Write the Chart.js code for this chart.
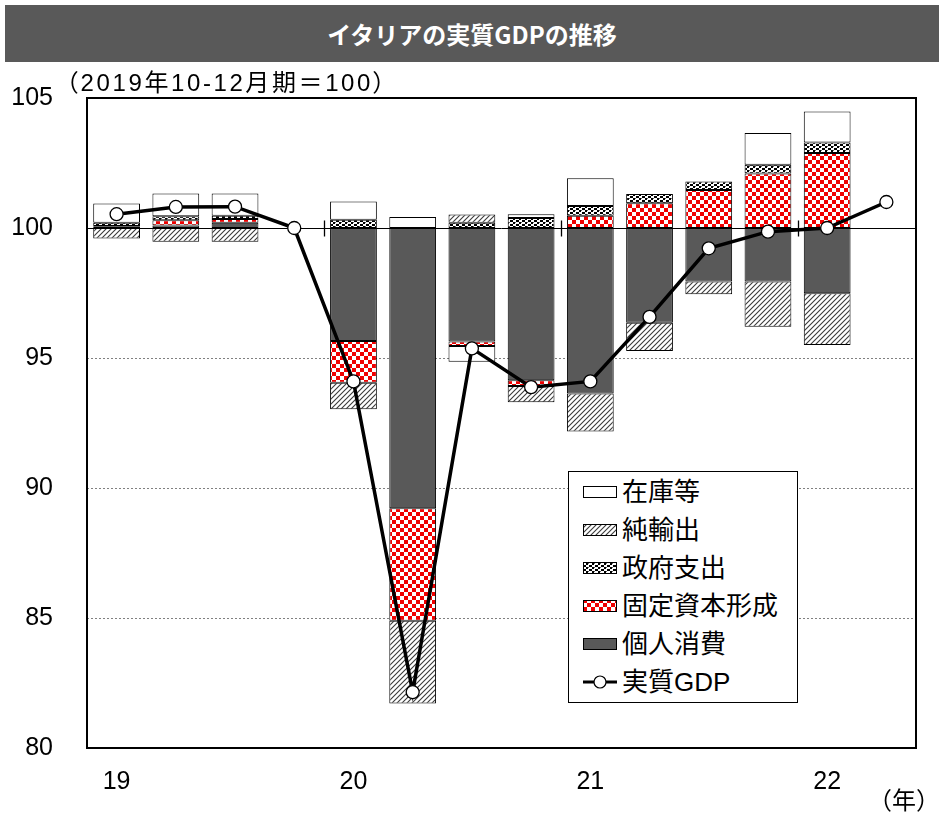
<!DOCTYPE html>
<html>
<head>
<meta charset="utf-8">
<script src="https://cdn.jsdelivr.net/npm/chart.js@4.4.1/dist/chart.umd.min.js"></script>
<style>
html,body{margin:0;padding:0;background:#fff;width:939px;height:821px;overflow:hidden;}
#wrap{position:relative;width:939px;height:821px;}
#c{position:absolute;left:0;top:0;width:939px;height:821px;}
#title{position:absolute;left:5px;top:5px;width:934px;height:57px;background:#595959;color:#fff;
  font:bold 24px "Noto Sans CJK JP";display:flex;align-items:center;justify-content:center;}
#sub{position:absolute;left:66px;top:71px;font-size:24px;line-height:24px;font-family:"Liberation Sans","Noto Sans CJK JP";
  letter-spacing:2.6px;font-feature-settings:"palt";color:#000;white-space:nowrap;}
#unit{position:absolute;left:868px;top:789px;font-size:24px;line-height:24px;font-family:"Liberation Sans","Noto Sans CJK JP";
  color:#000;white-space:nowrap;}
#legend{position:absolute;left:568px;top:471px;width:228px;height:230px;border:1px solid #000;background:#fff;}
.row{position:absolute;left:0;height:38px;width:228px;}
.row canvas{position:absolute;left:14px;top:12px;}
.row span{position:absolute;left:53px;top:0;line-height:38px;font-size:26px;font-family:"Liberation Sans","Noto Sans CJK JP";color:#000;white-space:nowrap;}
</style>
</head>
<body>
<div id="wrap">
  <canvas id="c" width="939" height="821"></canvas>
  <div id="title">イタリアの実質GDPの推移</div>
  <div id="sub">（2019年10-12月期＝100）</div>
  <div id="unit">（年）</div>
  <div id="legend"></div>
</div>
<script>
// ---- data (contributions to change since 2019Q4, pt; GDP index 2019Q4 = 100) ----
const quarters = ['2019Q1','2019Q2','2019Q3','2019Q4','2020Q1','2020Q2','2020Q3','2020Q4',
                  '2021Q1','2021Q2','2021Q3','2021Q4','2022Q1','2022Q2'];
const xTickLabels = ['19','','','','20','','','','21','','','','22',''];
const consumption = [0.05, 0.10, 0.20, null, -4.35, -10.78, -4.37, -5.86, -6.37, -3.64, -2.06, -2.06, -2.51, null];
const investment  = [0.03, 0.20, 0.15, null, -1.60, -4.33, -0.17, -0.22, 0.47, 0.95, 1.46, 2.10, 2.88, null];
const government  = [0.12, 0.15, 0.12, null, 0.32, null, 0.20, 0.38, 0.38, 0.36, 0.33, 0.33, 0.41, null];
const netExports  = [-0.40, -0.53, -0.53, null, -1.02, -3.18, 0.32, -0.62, -1.46, -1.09, -0.49, -1.74, -1.99, null];
const inventories = [0.74, 0.88, 0.86, null, 0.70, 0.42, -0.60, 0.15, 1.06, null, null, 1.22, 1.19, null];
const realGDP     = [100.53, 100.81, 100.82, 100.0, 94.10, 82.15, 95.37, 93.88, 94.10, 96.58, 99.22, 99.86, 100.0, 101.0];
const baseLevel = 100;
const yTicks = {min: 80, max: 105, step: 5};
const seriesNames = ['個人消費','固定資本形成','政府支出','純輸出','在庫等'];

// ---- patterns ----
const mainCtx = document.getElementById('c').getContext('2d');
function tile(kind){
  const t = document.createElement('canvas'); const g = t.getContext('2d');
  if(kind==='hatch'){
    t.width = t.height = 5; g.fillStyle='#fff'; g.fillRect(0,0,5,5);
    g.strokeStyle='#3a3a3a'; g.lineWidth=1.1; g.beginPath();
    g.moveTo(-1,6); g.lineTo(6,-1); g.moveTo(-1,1); g.lineTo(1,-1); g.moveTo(4,6); g.lineTo(6,4); g.stroke();
  } else if(kind==='check'){
    t.width = t.height = 8; g.fillStyle='#fff'; g.fillRect(0,0,8,8);
    g.fillStyle='#f00000'; g.fillRect(0,0,4,4); g.fillRect(4,4,4,4);
  } else if(kind==='dots'){
    t.width = 6; t.height = 4; g.fillStyle='#fff'; g.fillRect(0,0,6,4);
    g.fillStyle='#000'; g.fillRect(0,0,3,2); g.fillRect(3,2,2,2);
    g.fillStyle='#666'; g.fillRect(5,2,1,1);
  }
  return t;
}
function pat(kind, ctx){ return (ctx||mainCtx).createPattern(tile(kind),'repeat'); }
const fills = ['#595959', pat('check'), pat('dots'), pat('hatch'), '#ffffff'];

// ---- build floating stacked bars from base 100 ----
const comps = [consumption, investment, government, netExports, inventories];
const floating = comps.map(()=>[]);
for(let i=0;i<quarters.length;i++){
  let pos = baseLevel, neg = baseLevel;
  comps.forEach((arr,k)=>{
    const v = arr[i];
    if(v==null){ floating[k].push(null); return; }
    if(v>=0){ floating[k].push([pos, pos+v]); pos += v; }
    else { floating[k].push([neg+v, neg]); neg += v; }
  });
}

const barSets = comps.map((arr,k)=>({
  type:'bar', label: seriesNames[k], data: floating[k], backgroundColor: fills[k],
  borderColor:'#000', borderWidth:1, borderSkipped:false, grouped:false,
  barPercentage:0.79, categoryPercentage:1.0, order:1
}));
const lineSet = {type:'line', label:'実質GDP', data: realGDP, borderColor:'#000', borderWidth:3.5,
  pointRadius:6.5, pointHoverRadius:6.5, pointBackgroundColor:'#fff', pointBorderColor:'#000', pointBorderWidth:1.3,
  tension:0, fill:false, order:0};

const deco = {
  id:'deco',
  beforeDatasetsDraw(chart){
    const {ctx, chartArea:a, scales:{x,y}} = chart;
    ctx.save();
    ctx.strokeStyle='#808080'; ctx.lineWidth=1; ctx.setLineDash([2,2]);
    y.ticks.forEach(t=>{
      if(t.value>yTicks.min && t.value<yTicks.max && t.value!==baseLevel){
        const py = Math.round(y.getPixelForValue(t.value))+0.5;
        ctx.beginPath(); ctx.moveTo(a.left,py); ctx.lineTo(a.right,py); ctx.stroke();
      }
    });
    ctx.setLineDash([]); ctx.strokeStyle='#000';
    const p0 = Math.round(y.getPixelForValue(baseLevel))+0.5;
    ctx.beginPath(); ctx.moveTo(a.left,p0); ctx.lineTo(a.right,p0); ctx.stroke();
    ctx.lineWidth=1.3;
    xTickLabels.forEach((lab,i)=>{
      if(lab!=='' && i>0){
        const px = Math.round((x.getPixelForValue(i-1)+x.getPixelForValue(i))/2)+0.5;
        ctx.beginPath(); ctx.moveTo(px,p0-8); ctx.lineTo(px,p0+8); ctx.stroke();
      }
    });
    ctx.restore();
  },
  afterDatasetsDraw(chart){
    const {ctx, chartArea:a} = chart;
    ctx.save(); ctx.strokeStyle='#000'; ctx.lineWidth=2;
    ctx.strokeRect(a.left, a.top, a.right-a.left, a.bottom-a.top);
    ctx.restore();
  }
};

new Chart(mainCtx, {
  data:{ labels: quarters, datasets:[lineSet, ...barSets] },
  options:{
    responsive:false, animation:false, devicePixelRatio:1,
    layout:{padding:{top:98, right:23, bottom:0, left:0}},
    plugins:{legend:{display:false}, tooltip:{enabled:false}, title:{display:false}},
    scales:{
      x:{ type:'category', offset:true,
          grid:{display:false, drawTicks:false}, border:{display:false},
          ticks:{autoSkip:false, maxRotation:0, minRotation:0, padding:19, color:'#000',
                 font:{family:'"Liberation Sans", Arial', size:25},
                 callback:(v,i)=>xTickLabels[i]},
          afterFit:(s)=>{ s.height = 73; } },
      y:{ min:yTicks.min, max:yTicks.max,
          grid:{display:false, drawTicks:false}, border:{display:false},
          ticks:{stepSize:yTicks.step, padding:34, color:'#000',
                 font:{family:'"Liberation Sans", Arial', size:25}},
          afterFit:(s)=>{ s.width = 87; } }
    }
  },
  plugins:[deco]
});

// ---- HTML legend ----
const legendItems = [
  {name:'在庫等', kind:'solid:#ffffff'},
  {name:'純輸出', kind:'hatch'},
  {name:'政府支出', kind:'dots'},
  {name:'固定資本形成', kind:'check'},
  {name:'個人消費', kind:'solid:#595959'},
  {name:'実質GDP', kind:'line'}
];
const lg = document.getElementById('legend');
legendItems.forEach((it,i)=>{
  const row = document.createElement('div'); row.className='row'; row.style.top = (1 + i*38)+'px';
  const cv = document.createElement('canvas'); cv.width=34; cv.height=14;
  const g = cv.getContext('2d');
  if(it.kind==='line'){
    g.strokeStyle='#000'; g.lineWidth=3; g.beginPath(); g.moveTo(0,7); g.lineTo(34,7); g.stroke();
    g.beginPath(); g.arc(17,7,6,0,Math.PI*2); g.fillStyle='#fff'; g.fill(); g.lineWidth=1.2; g.stroke();
  } else {
    g.fillStyle = it.kind.startsWith('solid:') ? it.kind.slice(6) : g.createPattern(tile(it.kind),'repeat');
    g.fillRect(0.5,1.5,33,11); g.strokeStyle='#000'; g.lineWidth=1; g.strokeRect(0.5,1.5,33,11);
  }
  const sp = document.createElement('span'); sp.textContent = it.name;
  row.appendChild(cv); row.appendChild(sp); lg.appendChild(row);
});
</script>
</body>
</html>
